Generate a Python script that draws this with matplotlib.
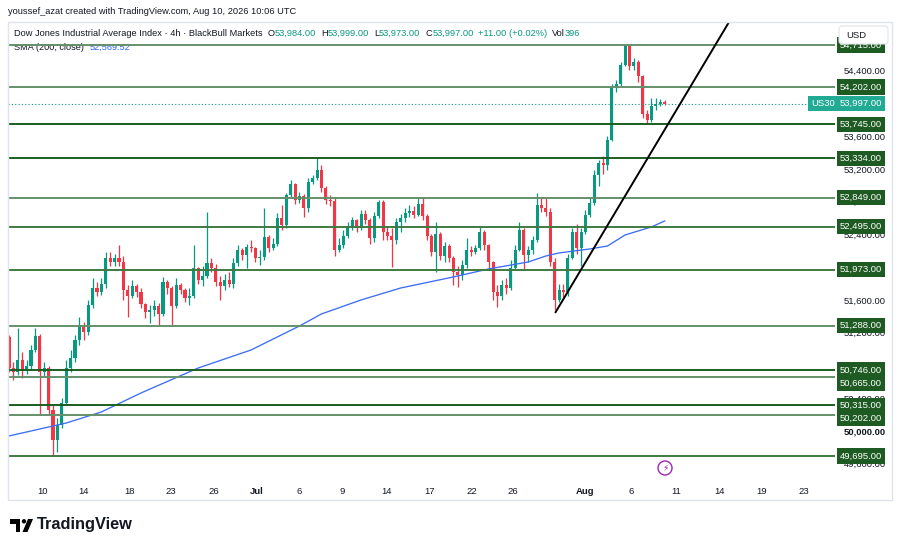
import matplotlib
matplotlib.use("Agg")
import matplotlib.pyplot as plt
from matplotlib.transforms import IdentityTransform
from matplotlib.patches import Rectangle, Polygon, Circle, FancyBboxPatch

plt.rcParams['font.family'] = ['Liberation Sans', 'DejaVu Sans']

# ---------------- data ----------------
first_open = 51149
closes = [50770, 50721, 50868, 50745, 50793, 50990, 51161, 50721, 50770, 50257,
          49893, 50074, 50343, 50770, 50892, 51112, 51296, 51210, 51540, 51747,
          51699, 51796, 52114, 52065, 52114, 52065, 51723, 51650, 51772, 51699,
          51552, 51455, 51479, 51527, 51430, 51821, 51747, 51527, 51784, 51723,
          51625, 51650, 51992, 51845, 51894, 52053, 51992, 51821, 51772, 51845,
          51796, 52053, 52212, 52150, 52248, 52236, 52114, 52120, 52370, 52236,
          52285, 52602, 52517, 52883, 53017, 52822, 52871, 52724, 53042, 53091,
          53189, 52969, 52822, 52810, 52212, 52273, 52382, 52505, 52578, 52480,
          52651, 52578, 52358, 52627, 52798, 52431, 52382, 52334, 52553, 52602,
          52663, 52688, 52639, 52774, 52627, 52382, 52187, 52407, 52138, 52260,
          52114, 51943, 51906, 52028, 52212, 52187, 52236, 52431, 52273, 52065,
          51699, 51650, 51784, 51747, 51992, 52212, 52456, 52150, 52212, 52334,
          52761, 52724, 52676, 52065, 51601, 51723, 51699, 52114, 52431, 52236,
          52431, 52639, 52786, 53128, 53274, 53250, 53555, 54190, 54239, 54471,
          54703, 54459, 54508, 54337, 53873, 53800, 53970, 53995, 54019, 53997]
highs = [51173, 50844, 51259, 50966, 50868, 51051, 51259, 51186, 50844, 50793,
         50318, 50160, 50404, 50868, 50990, 51173, 51393, 51332, 51601, 51870,
         51821, 51870, 52187, 52187, 52163, 52273, 52138, 51784, 51845, 51796,
         51747, 51564, 51540, 51601, 51564, 51882, 51845, 51772, 51870, 51809,
         51747, 51747, 52273, 52004, 52016, 52676, 52114, 52040, 51894, 51918,
         51943, 52114, 52273, 52236, 52285, 52334, 52248, 52212, 52724, 52395,
         52358, 52663, 52761, 52908, 53066, 53030, 52920, 52895, 53091, 53128,
         53335, 53250, 52993, 52883, 52847, 52358, 52456, 52553, 52614, 52590,
         52700, 52700, 52602, 52676, 52822, 52822, 52505, 52480, 52602, 52651,
         52724, 52761, 52749, 52847, 52859, 52651, 52407, 52553, 52431, 52309,
         52285, 52138, 52016, 52089, 52358, 52260, 52273, 52493, 52456, 52285,
         52080, 51784, 51845, 51870, 52089, 52273, 52553, 52480, 52260, 52382,
         52908, 52847, 52847, 52724, 52114, 51796, 51796, 52163, 52480, 52529,
         52480, 52700, 52847, 53189, 53311, 53360, 53604, 54239, 54288, 54508,
         54728, 54712, 54557, 54532, 54350, 53922, 54068, 54068, 54056, 54044]
lows = [50721, 50624, 50685, 50648, 50697, 50745, 50966, 50197, 50672, 50208,
        49700, 49745, 50037, 50318, 50721, 50844, 51051, 51112, 51173, 51503,
        51650, 51662, 51747, 52016, 52016, 52016, 51601, 51393, 51625, 51637,
        51503, 51381, 51320, 51405, 51296, 51405, 51674, 51296, 51503, 51674,
        51576, 51540, 51625, 51796, 51772, 51870, 51943, 51772, 51601, 51723,
        51760, 51747, 52016, 52089, 51992, 52187, 52065, 52028, 52089, 52187,
        52212, 52260, 52456, 52480, 52847, 52774, 52786, 52614, 52676, 53017,
        53066, 52920, 52774, 52749, 52138, 52187, 52236, 52358, 52456, 52431,
        52456, 52529, 52285, 52309, 52602, 52334, 52334, 52004, 52285, 52431,
        52553, 52614, 52602, 52627, 52578, 52334, 52138, 51943, 52089, 52065,
        52065, 51784, 51760, 51845, 51992, 52138, 52163, 52212, 52212, 51992,
        51601, 51515, 51601, 51674, 51723, 51967, 52200, 51967, 52065, 52163,
        52309, 52676, 52627, 52016, 51479, 51576, 51625, 51650, 52100, 52163,
        52016, 52407, 52620, 52761, 52993, 53140, 53189, 53540, 54141, 54215,
        54459, 54410, 54410, 54263, 53824, 53750, 53775, 53922, 53970, 53984]

sma_x = [0, 13, 21, 30, 43, 55, 66, 71, 80, 89, 101, 109, 118, 122, 125, 132, 136, 140, 146, 149]
sma_vals = [49940, 50098, 50233, 50465, 50770, 50990, 51283, 51430, 51601, 51747,
            51882, 51980, 52065, 52138, 52175, 52224, 52260, 52395, 52493, 52566]

trend_x = [124.1, 163.9]
trend_vals = [51442, 55021]

levels = [54715, 54202, 53745, 53334, 52849, 52495, 51973, 51288, 50746, 50665, 50315, 50202, 49695]
last_price = 53997

x_tick_pos = [7.7, 17.0, 27.5, 36.8, 46.6, 56.4, 65.9, 75.7, 85.7, 95.5, 105.2, 114.5,
              130.9, 141.4, 151.6, 161.4, 171.1, 180.7]
x_tick_labels = ['10', '14', '18', '23', '26', 'Jul', '6', '9', '14', '17', '22', '26',
                 'Aug', '6', '11', '14', '19', '23']
y_ticks = list(range(49600, 55000, 400))

# ---------------- styles ----------------
GREEN = '#089981'
RED = '#f23645'
DARK = '#131722'
LV_DARK = '#1b5e20'
LV_MID = '#3f7a40'
LV_LIGHT = '#64906a'
level_colors = [LV_LIGHT, LV_LIGHT, LV_DARK, LV_DARK, LV_LIGHT, LV_MID, LV_MID,
                LV_LIGHT, LV_DARK, LV_LIGHT, LV_DARK, LV_LIGHT, LV_MID]
LABEL_BG = '#1e5b22'

W, H = 900, 549
fig = plt.figure(figsize=(9, 5.49), dpi=100)
fig.patch.set_facecolor('white')
ax = fig.add_axes([8 / W, 1 - 480 / H, (835 - 8) / W, (480 - 22) / H])
ax.set_facecolor('white')
for s in ax.spines.values():
    s.set_visible(False)

N = len(closes)
opens = [first_open] + closes[:-1]
idx = list(range(N))
cols = [GREEN if c >= o else RED for o, c in zip(opens, closes)]
ax.vlines(idx, lows, highs, colors=cols, lw=0.9, zorder=2)
bottoms = [min(o, c) for o, c in zip(opens, closes)]
heights = [max(abs(c - o), 8) for o, c in zip(opens, closes)]
ax.bar(idx, heights, bottom=bottoms, width=0.7, color=cols, zorder=2.1, linewidth=0)

ax.plot(sma_x, sma_vals, color='#3d6df2', lw=0.95, zorder=2.5)

for lv, lc in zip(levels, level_colors):
    ax.axhline(lv, color=lc, lw=1.4, zorder=3)

ax.axhline(last_price, color=GREEN, lw=0.8, ls=(0, (1, 2)), zorder=2.6)
ax.plot(trend_x, trend_vals, color='black', lw=1.4, zorder=4, solid_capstyle='butt')

ax.set_xlim(-0.23, 187.7)
ax.set_ylim(49402, 54996)

ax.set_xticks(x_tick_pos, x_tick_labels)
for t in ax.get_xticklabels():
    if t.get_text() in ('Jul', 'Aug'):
        t.set_fontweight('bold')
ax.tick_params(axis='x', length=0, pad=5, labelsize=6.8, colors=DARK)

ax.yaxis.tick_right()
ax.set_yticks(y_ticks)
ID = IdentityTransform()


def tick_text(v):
    # hide tick labels that sit fully under a price label
    yv = ax.transData.transform((0, v))[1]
    for lv in levels + [last_price]:
        if abs(ax.transData.transform((0, lv))[1] - yv) < 3.5:
            return ""
    if v > 54700:
        return ""
    return f"{v:,.2f}"


ax.set_yticklabels([tick_text(v) for v in y_ticks])
for t in ax.get_yticklabels():
    if t.get_text() == '50,000.00':
        t.set_fontweight('bold')
ax.tick_params(axis='y', length=0, pad=6, labelsize=6.8, colors=DARK)

renderer = fig.canvas.get_renderer()


def draw_segments(x0, y0, parts, size, right=None, zorder=1, holder=ax):
    def build(sz):
        arts = []
        x = x0
        for txt, col, gap, wt in parts:
            x += gap
            t = holder.text(x, H - y0, txt, transform=ID, fontsize=sz, color=col,
                            va='center', ha='left', fontweight=wt, zorder=zorder)
            x = t.get_window_extent(renderer).x1
            arts.append(t)
        return arts, x
    arts, xe = build(size)
    if right is not None:
        gaps = sum(p[2] for p in parts)
        scale = (right - x0 - gaps) / (xe - x0 - gaps)
        for a in arts:
            a.remove()
        arts, xe = build(size * scale)
    return arts


# header texts
draw_segments(8, 12, [("youssef_azat created with TradingView.com, Aug 10, 2026 10:06 UTC", DARK, 0, 'normal')],
              8, right=298, holder=fig)
draw_segments(14, 33, [
    ("Dow Jones Industrial Average Index · 4h · BlackBull Markets", DARK, 0, 'normal'),
    ("O", DARK, 5, 'normal'), ("53,984.00", GREEN, 0, 'normal'),
    ("H", DARK, 5, 'normal'), ("53,999.00", GREEN, 0, 'normal'),
    ("L", DARK, 5, 'normal'), ("53,973.00", GREEN, 0, 'normal'),
    ("C", DARK, 5, 'normal'), ("53,997.00", GREEN, 0, 'normal'),
    ("+11.00 (+0.02%)", GREEN, 4, 'normal'),
    ("Vol", DARK, 5, 'normal'), ("396", GREEN, 0, 'normal')], 7.3, right=580)
draw_segments(14, 47, [("SMA (200, close)", DARK, 0, 'normal'),
                       ("52,569.52", '#2962ff', 6, 'normal')], 7.3, right=130)

# level labels on price axis
ys = [ax.transData.transform((0, lv))[1] for lv in levels]
order = sorted(range(len(levels)), key=lambda k: -ys[k])
placed = {}
prev = None
for k in order:
    y = ys[k]
    if prev is not None and prev - y < 13.5:
        y = prev - 13.5
    placed[k] = y
    prev = y
for k, lv in enumerate(levels):
    ax.text(840, placed[k], f"{lv:,.2f}", transform=ID, fontsize=6.8, color='white',
            va='center', ha='left', zorder=6,
            bbox=dict(boxstyle='square,pad=0.32', fc=LABEL_BG, ec='none'))

yp = ax.transData.transform((0, last_price))[1]
ax.text(840, yp, f"{last_price:,.2f}", transform=ID, fontsize=6.8, color='white',
        va='center', ha='left', zorder=6,
        bbox=dict(boxstyle='square,pad=0.32', fc='#22ab94', ec='none'))
ax.text(811, yp, "US30", transform=ID, fontsize=6.8, color='white',
        va='center', ha='left', zorder=6,
        bbox=dict(boxstyle='square,pad=0.32', fc='#22ab94', ec='none'))

# USD box
fig.add_artist(FancyBboxPatch((839, H - 44), 49, 18, boxstyle='round,pad=0,rounding_size=3',
                              transform=ID, fc='white', ec='#e0e3eb', lw=0.8, zorder=10))
fig.text(846, H - 35, "USD", transform=ID, fontsize=6.8, color=DARK, va='center', ha='left', zorder=11)

# panel border
fig.add_artist(Rectangle((8, H - 500), 884, 478, transform=ID, fill=False,
                         ec='#e0e3eb', lw=1, zorder=9))

# lightning icon
fig.add_artist(Circle((665, H - 468), 7, transform=ID, fc='white', ec='#9c27b0', lw=1, zorder=9))
fig.text(665, H - 468, "⚡", transform=ID, fontsize=6.5, color='#9c27b0', ha='center', va='center',
         family=['DejaVu Sans'], zorder=10)

# TradingView logo
fig.add_artist(Polygon([(10, H - 519), (20, H - 519), (20, H - 532), (15.5, H - 532),
                        (15.5, H - 523.5), (10, H - 523.5)], closed=True, transform=ID,
                       fc='black', ec='none', zorder=9))
fig.add_artist(Circle((24, H - 521.3), 2.2, transform=ID, fc='black', ec='none', zorder=9))
fig.add_artist(Polygon([(22.5, H - 532), (27.5, H - 532), (33, H - 519), (28, H - 519)],
                       closed=True, transform=ID, fc='black', ec='none', zorder=9))
draw_segments(37, 525, [("TradingView", DARK, 0, 'bold')], 11, right=133, holder=fig)

fig.savefig("out.png", dpi=100)
